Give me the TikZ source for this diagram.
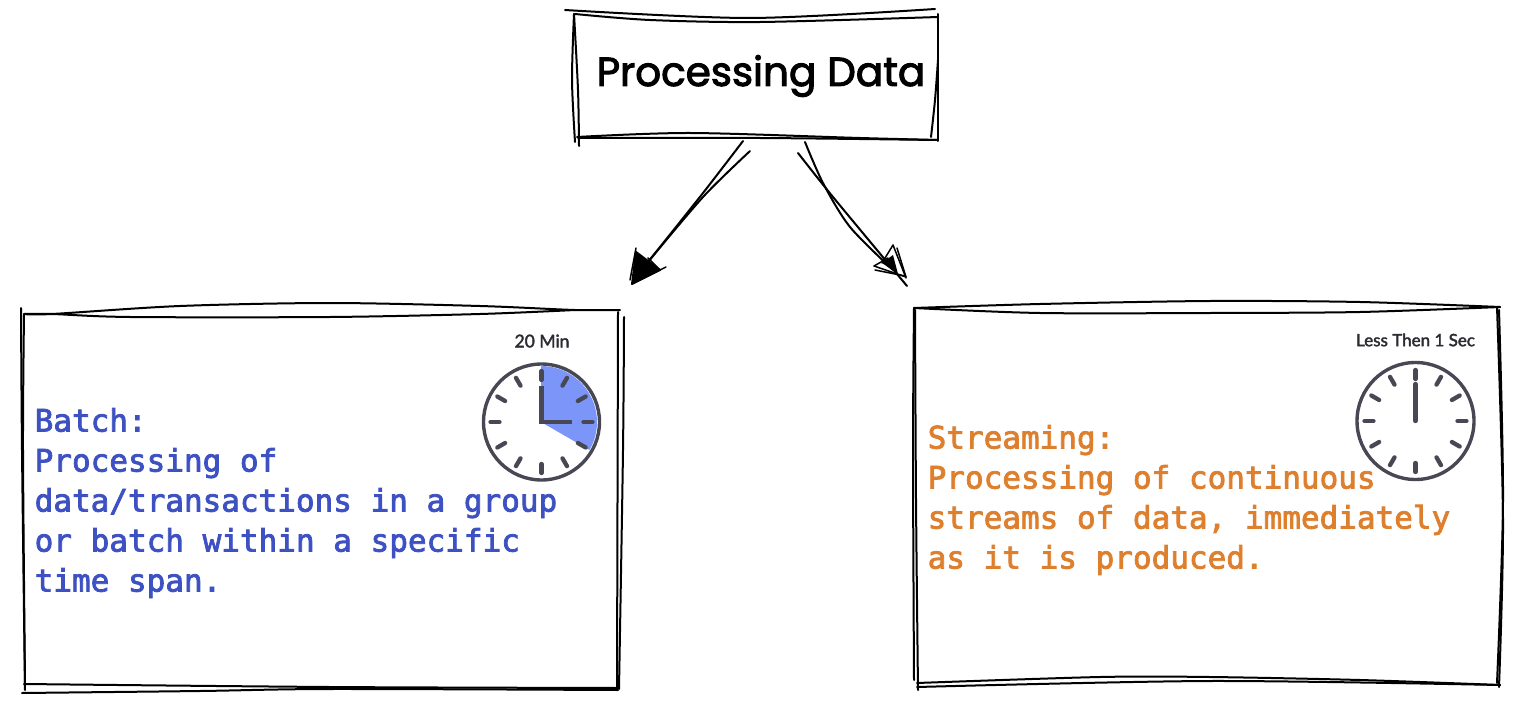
\documentclass[tikz,border=0pt]{standalone}
\usepackage{fontspec}
\setmainfont{Lato}
\newfontfamily\handfont[FakeBold=2.5]{Poppins}
\newfontfamily\codefont[FakeBold=2.5]{DejaVu Sans Mono}
\newfontfamily\clockfont[FakeBold=2.2]{Lato}
\definecolor{batchblue}{HTML}{3D51C2}
\definecolor{streamorange}{HTML}{DE7F2E}
\definecolor{clockgrey}{HTML}{484854}
\definecolor{sectorblue}{HTML}{7B96F8}
\tikzset{
  x=1pt,y=-1pt,
  sk/.style={line width=2pt,line cap=round,line join=round,black},
  skthin/.style={line width=1.5pt,line cap=round,line join=round,black},
  clockring/.style={line width=3.4pt,draw=clockgrey},
  clockmark/.style={line width=4.3pt,draw=clockgrey,line cap=round},
  codetext/.style={font=\fontsize{31}{40}\selectfont\codefont,align=left,anchor=west,inner sep=0pt},
  clocklabel/.style={font=\fontsize{17.5}{20}\selectfont\clockfont,text=clockgrey!60!black,inner sep=0pt}
}
\begin{document}
\begin{tikzpicture}
\useasboundingbox (0,0) rectangle (1526,706);
% top box
\draw[sk] plot[smooth] coordinates {(565,10) (750,18) (935,9)};
\draw[sk] plot[smooth] coordinates {(575,14) (650,20) (760,22) (938,17)};
\draw[sk] plot[smooth] coordinates {(574,14) (572,80) (575,142)};
\draw[sk] plot[smooth] coordinates {(574,14) (578,90) (579,146)};
\draw[sk] plot[smooth] coordinates {(577,137) (690,133) (860,138) (938,140)};
\draw[sk] plot[smooth] coordinates {(578,138) (760,138) (938,140)};
\draw[sk] (938,14) -- (938,141);
\draw[sk] plot[smooth] coordinates {(938,60) (935,100) (931,137)};
\node[font=\fontsize{40.5}{46}\selectfont\handfont,inner sep=0pt] (title) at (761,76) {Processing Data};
% left box
\draw[sk] plot[smooth] coordinates {(24,314) (52,314) (180,306) (330,303) (480,306) (575,310) (620,310)};
\draw[sk] plot[smooth] coordinates {(24,314) (52,314) (130,317) (330,317) (480,314) (575,310)};
\draw[sk] plot[smooth] coordinates {(21,308) (22,450) (25,690)};
\draw[sk] plot[smooth] coordinates {(24,315) (23,450) (25,685)};
\draw[sk] plot[smooth] coordinates {(24,684) (330,687) (618,688)};
\draw[sk] plot[smooth] coordinates {(22,693) (200,691) (330,689) (618,690)};
\draw[sk] (618,312) -- (617,688);
\draw[sk] plot[smooth] coordinates {(624,317) (623,450) (619,689)};
\node[codetext,text=batchblue] (batch) at (34.5,503) {Batch:\\Processing of\\data/transactions in a group\\or batch within a specific\\time span.};
% right box
\draw[sk] plot[smooth] coordinates {(914,308) (1040,304) (1210,301) (1360,302) (1500,307)};
\draw[sk] plot[smooth] coordinates {(914,308) (1040,313) (1210,313) (1360,312) (1500,307)};
\draw[sk] plot[smooth] coordinates {(914,308) (913,450) (914,680)};
\draw[sk] plot[smooth] coordinates {(915,310) (916,500) (918,690)};
\draw[sk] plot[smooth] coordinates {(917,683) (1100,677) (1210,677) (1360,680) (1500,685)};
\draw[sk] plot[smooth] coordinates {(917,687) (1210,681) (1500,685)};
\draw[sk] plot[smooth] coordinates {(1497,307) (1503,520) (1499,687)};
\draw[sk] plot[smooth] coordinates {(1499,310) (1503,500) (1497,683)};
\node[codetext,text=streamorange] (stream) at (927.5,500) {Streaming:\\Processing of continuous\\streams of data, immediately\\as it is produced.};
% left clock
\fill[sectorblue] (541,422) -- plot[domain=0:120,samples=40] ({541+56*sin(\x)},{422-56*cos(\x)}) -- cycle;
\draw[clockring] (541.5,422) circle[radius=58];
\foreach \a in {0,30,...,330}
  \draw[clockmark] ({541.5+42*sin(\a)},{422-42*cos(\a)}) -- ({541.5+51*sin(\a)},{422-51*cos(\a)});
\draw[clockmark,line join=miter,line cap=butt] (541.5,386) -- (541.5,422) -- (572,422);
\node[clocklabel] (batchtime) at (542,341) {20 Min};
% right clock
\draw[clockring] (1415.5,421) circle[radius=58.5];
\foreach \a in {0,30,...,330}
  \draw[clockmark] ({1415.5+42*sin(\a)},{421-42*cos(\a)}) -- ({1415.5+51*sin(\a)},{421-51*cos(\a)});
\draw[clockmark] (1415.5,384) -- (1415.5,421);
\node[clocklabel,font=\fontsize{17}{20}\selectfont\clockfont] (streamtime) at (1415.5,340) {Less Then 1 Sec};
% left arrow
\coordinate (lstarta) at (743,141);
\coordinate (lstartb) at (750,151);
\coordinate (lend) at (648,262);
\coordinate (ltip) at (632,284);
\draw[sk] plot[smooth] coordinates {(lstarta) (703,193) (lend)};
\draw[sk] plot[smooth] coordinates {(lstartb) (703,197) (lend)};
\draw[sk,fill=black] (636,252) -- (ltip) -- (660,270) -- cycle;
\draw[skthin] (636,248) -- (630,280);
\draw[skthin] (666,267) -- (632,284);
\draw[skthin] (648,258) -- (660,270);
% right arrow
\coordinate (rstarta) at (805,142);
\coordinate (rstartb) at (798,153);
\coordinate (rend) at (893,270);
\coordinate (rtip) at (907,286);
\draw[sk] plot[smooth] coordinates {(rstarta) (823,183) (850,227) (rend)};
\draw[sk] plot[smooth] coordinates {(rstartb) (833,197) (rtip)};
\fill (882,263) -- (893,255) -- (898,274) -- cycle;
\draw[skthin] (893,245) -- (906,278);
\draw[skthin] (897,248) -- (906,277);
\draw[skthin] (893,245) -- (882,263);
\draw[skthin] (874,266) -- (906,277);
\draw[skthin] (875,270) -- (905,276);
\draw[skthin] (874,266) -- (888,258);
\end{tikzpicture}
\end{document}
